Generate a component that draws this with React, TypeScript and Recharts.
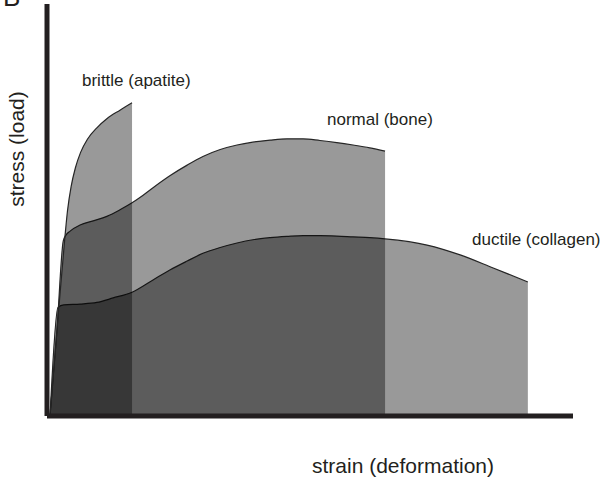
import { ComposedChart, Area, XAxis, YAxis } from "recharts";

// strain on x (0..10), stress on y (0..10)
const brittle = [
  { x: 0.04, y: 0 },
  { x: 0.17, y: 2.05 },
  { x: 0.32, y: 4.3 },
  { x: 0.37, y: 4.95 },
  { x: 0.44, y: 5.55 },
  { x: 0.52, y: 6.0 },
  { x: 0.62, y: 6.38 },
  { x: 0.75, y: 6.7 },
  { x: 0.93, y: 6.98 },
  { x: 1.12, y: 7.2 },
  { x: 1.37, y: 7.41 },
  { x: 1.6, y: 7.59 },
];

const normal = [
  { x: 0.04, y: 0 },
  { x: 0.17, y: 2.05 },
  { x: 0.29, y: 4.22 },
  { x: 0.34, y: 4.36 },
  { x: 0.42, y: 4.46 },
  { x: 0.61, y: 4.61 },
  { x: 0.86, y: 4.71 },
  { x: 1.12, y: 4.82 },
  { x: 1.37, y: 4.98 },
  { x: 1.6, y: 5.15 },
  { x: 1.75, y: 5.28 },
  { x: 2.0, y: 5.52 },
  { x: 2.32, y: 5.81 },
  { x: 2.65, y: 6.07 },
  { x: 2.95, y: 6.28 },
  { x: 3.28, y: 6.45 },
  { x: 3.6, y: 6.56 },
  { x: 3.9, y: 6.63 },
  { x: 4.23, y: 6.68 },
  { x: 4.55, y: 6.71 },
  { x: 4.86, y: 6.71 },
  { x: 5.18, y: 6.67 },
  { x: 5.5, y: 6.62 },
  { x: 5.81, y: 6.56 },
  { x: 6.13, y: 6.49 },
  { x: 6.42, y: 6.41 },
];

const ductile = [
  { x: 0.04, y: 0 },
  { x: 0.19, y: 2.6 },
  { x: 0.3, y: 2.66 },
  { x: 0.61, y: 2.68 },
  { x: 0.93, y: 2.72 },
  { x: 1.24, y: 2.83 },
  { x: 1.6, y: 2.97 },
  { x: 2.0, y: 3.27 },
  { x: 2.32, y: 3.51 },
  { x: 2.65, y: 3.73 },
  { x: 2.95, y: 3.92 },
  { x: 3.28, y: 4.06 },
  { x: 3.6, y: 4.17 },
  { x: 3.9, y: 4.25 },
  { x: 4.23, y: 4.3 },
  { x: 4.55, y: 4.33 },
  { x: 4.86, y: 4.35 },
  { x: 5.18, y: 4.35 },
  { x: 5.5, y: 4.34 },
  { x: 5.81, y: 4.32 },
  { x: 6.13, y: 4.3 },
  { x: 6.42, y: 4.27 },
  { x: 7.22, y: 4.12 },
  { x: 7.85, y: 3.88 },
  { x: 8.48, y: 3.56 },
  { x: 9.14, y: 3.22 },
];

const seriesLabels = ["brittle (apatite)", "normal (bone)", "ductile (collagen)"];
const xTitle = "strain (deformation)";
const yTitle = "stress (load)";
const panelLetter = "B";

const font = "'Liberation Sans', Arial, sans-serif";
const ink = "#231f20";

const areaProps = {
  type: "monotone" as const,
  dataKey: "y",
  fill: "#000",
  fillOpacity: 0.4,
  stroke: "#262626",
  strokeWidth: 1.2,
  dot: false,
  activeDot: false,
  isAnimationActive: false,
};

export default function App() {
  return (
    <div style={{ position: "absolute", left: 0, top: 0, width: 605, height: 478, background: "#fff" }}>
      <ComposedChart width={605} height={478} margin={{ top: 4, right: 32, bottom: 61, left: 46 }}>
        <XAxis
          type="number"
          dataKey="x"
          domain={[-0.02, 10]}
          height={1}
          tick={false}
          tickLine={false}
          axisLine={{ stroke: ink, strokeWidth: 5 }}
        />
        <YAxis
          type="number"
          domain={[-0.05, 10]}
          width={1}
          tick={false}
          tickLine={false}
          axisLine={{ stroke: ink, strokeWidth: 5 }}
        />
        <Area {...areaProps} data={ductile} name="ductile" />
        <Area {...areaProps} data={normal} name="normal" />
        <Area {...areaProps} data={brittle} name="brittle" />
      </ComposedChart>
      <svg
        width={605}
        height={478}
        style={{ position: "absolute", left: 0, top: 0, pointerEvents: "none" }}
        fontFamily={font}
        fill={ink}
      >
        <text x={3} y={6} fontSize={26}>{panelLetter}</text>
        <text x={82} y={86} fontSize={17}>{seriesLabels[0]}</text>
        <text x={327} y={125} fontSize={17}>{seriesLabels[1]}</text>
        <text x={472} y={245} fontSize={17}>{seriesLabels[2]}</text>
        <text x={403} y={473} fontSize={21} textAnchor="middle">{xTitle}</text>
        <text x={24} y={149} fontSize={21} textAnchor="middle" transform="rotate(-90 24 149)">{yTitle}</text>
      </svg>
    </div>
  );
}
